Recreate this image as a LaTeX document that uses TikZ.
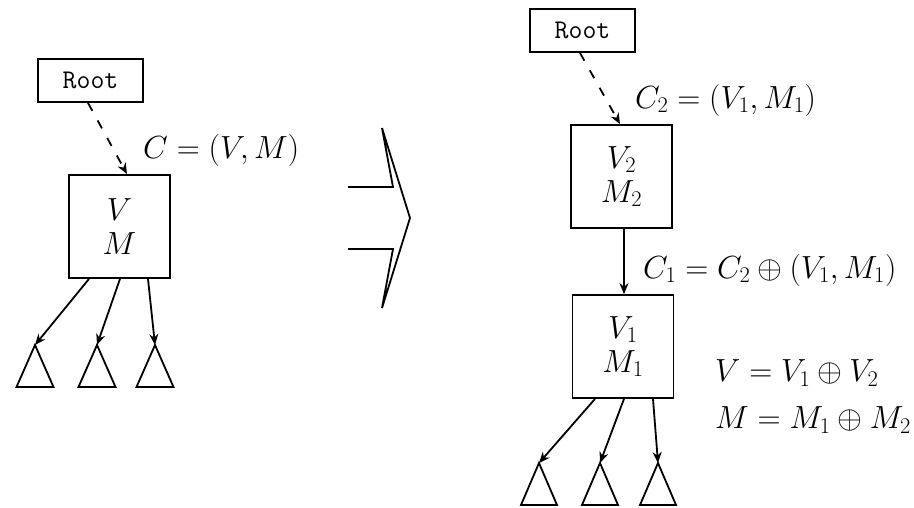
\RequirePackage{fix-cm}
\documentclass[tikz,border=0pt]{standalone}
\usetikzlibrary{arrows.meta}
\tikzset{
  lw/.style={line width=1.8pt},
  rootbox/.style={draw, lw, minimum width=105pt, minimum height=43pt, inner sep=0pt,
    font=\fontsize{27}{30}\selectfont\ttfamily},
  nodebox/.style={draw, lw, minimum width=101pt, minimum height=103pt, inner sep=0pt,
    align=center, font=\fontsize{32}{34}\selectfont},
  lbl/.style={anchor=west, inner sep=0pt, font=\fontsize{32}{40}\selectfont},
  conn/.style={lw, -{Stealth[length=11pt,width=9pt]}},
  dconn/.style={conn, dash pattern=on 9pt off 11pt},
  subtree/.style={lw, line join=miter},
}
\begin{document}
\begin{tikzpicture}[x=1pt,y=-1pt]
\useasboundingbox (0,0) rectangle (914,507);
% ---------- left tree ----------
\node[rootbox] (rootL) at (90.5,80.5) {Root};
\node[nodebox] (boxL) at (119.5,226.5) {$V$\\$M$};
\node[lbl] (cL) at (143,150) {$C=(V,M)$};
\draw[dconn] ([xshift=-2.5pt]rootL.south) -- ([xshift=7.5pt]boxL.north);
\coordinate (tL1) at (35,345);
\coordinate (tL2) at (97,345);
\coordinate (tL3) at (155,345);
\foreach \t in {tL1,tL2,tL3}{
  \draw[subtree] (\t) -- ++(-18.5,42) -- ++(37,0) -- cycle;
}
\draw[conn] ([xshift=-30.5pt]boxL.south) -- (tL1);
\draw[conn] ([xshift=0.5pt]boxL.south) -- (tL2);
\draw[conn] ([xshift=28.5pt]boxL.south) -- (tL3);
% ---------- big arrow ----------
\draw[lw, line join=miter] (348,187) -- (393,187) -- (382,128) -- (410,218)
  -- (382,308) -- (393,249) -- (348,249);
% ---------- right tree ----------
\node[rootbox] (rootR) at (582.5,30.5) {Root};
\node[nodebox] (boxR2) at (621.5,176.5) {$V_2$\\$M_2$};
\node[nodebox] (boxR1) at (623,346.5) {$V_1$\\$M_1$};
\node[lbl] (c2) at (635,100) {$C_2=(V_1,M_1)$};
\node[lbl] (c1) at (643,270) {$C_1=C_2\oplus(V_1,M_1)$};
\node[lbl] (eqV) at (715,373) {$V=V_1\oplus V_2$};
\node[lbl] (eqM) at (715,420) {$M=M_1\oplus M_2$};
\draw[dconn] ([xshift=-2.5pt]rootR.south) -- ([xshift=-1.5pt]boxR2.north);
\draw[conn] ([xshift=2.5pt]boxR2.south) -- ([xshift=1pt]boxR1.north);
\coordinate (tR1) at (539,463);
\coordinate (tR2) at (600,463);
\coordinate (tR3) at (658,463);
\foreach \t in {tR1,tR2,tR3}{
  \draw[subtree] (\t) -- ++(-18,42) -- ++(36,0) -- cycle;
}
\draw[conn] ([xshift=-28pt]boxR1.south) -- (tR1);
\draw[conn] ([xshift=1pt]boxR1.south) -- (tR2);
\draw[conn] ([xshift=30pt]boxR1.south) -- (tR3);
\end{tikzpicture}
\end{document}
